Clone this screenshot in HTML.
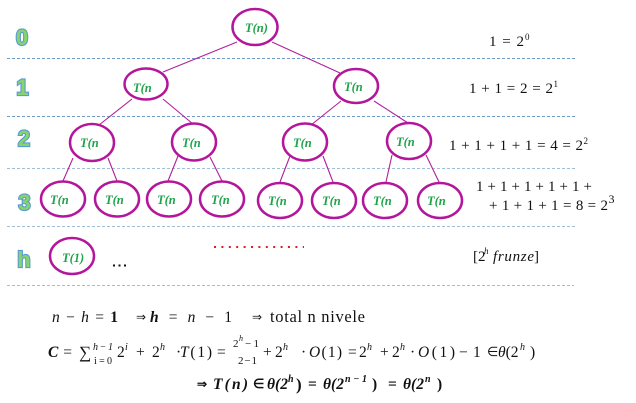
<!DOCTYPE html>
<html><head><meta charset="utf-8"><style>
html,body{margin:0;padding:0;background:#fff;}
svg{display:block;}
.m{font-family:"Liberation Serif",serif;fill:#111;}
.nt{font-family:"Liberation Serif",serif;font-weight:bold;font-style:italic;font-size:12.5px;fill:#1fa34a;}
.lv{font-family:"Liberation Sans",sans-serif;font-weight:bold;font-size:22px;fill:#86d46b;stroke:#5a9bd5;stroke-width:2.2px;paint-order:stroke;text-anchor:middle;}
.i{font-style:italic;}
.b{font-weight:bold;}
</style></head><body>
<svg width="636" height="403" viewBox="0 0 636 403" xmlns="http://www.w3.org/2000/svg">
<rect width="636" height="403" fill="#fff"/>
<!-- dashed separators -->
<g stroke-dasharray="3 2" stroke-width="1">
<line x1="7" y1="58.5" x2="576" y2="58.5" stroke="#6f9bc8"/>
<line x1="7" y1="116.5" x2="576" y2="116.5" stroke="#6f9bc8"/>
<line x1="7" y1="168.5" x2="576" y2="168.5" stroke="#9fbfd9"/>
<line x1="7" y1="226.5" x2="576" y2="226.5" stroke="#9fbfd9"/>
<line x1="7" y1="285.5" x2="574" y2="285.5" stroke="#9fbfd9"/>
</g>
<!-- edges -->
<g stroke="#b0209a" stroke-width="1.1" fill="none">
<line x1="237" y1="42" x2="163" y2="72"/>
<line x1="272" y1="42" x2="340" y2="73"/>
<line x1="132" y1="99" x2="99" y2="125"/>
<line x1="163" y1="99" x2="193" y2="124"/>
<line x1="341" y1="101" x2="311" y2="125"/>
<line x1="374" y1="101" x2="408" y2="123"/>
<line x1="73" y1="158" x2="63" y2="181"/>
<line x1="108" y1="158" x2="117" y2="181"/>
<line x1="178" y1="156" x2="168" y2="181"/>
<line x1="210" y1="157" x2="222" y2="181"/>
<line x1="290" y1="156" x2="280" y2="182"/>
<line x1="323" y1="156" x2="333" y2="182"/>
<line x1="392" y1="155" x2="386" y2="182"/>
<line x1="426" y1="155" x2="439" y2="182"/>
</g>
<!-- nodes -->
<g fill="#fff" stroke="#b4169b" stroke-width="2.5">
<ellipse cx="255" cy="27" rx="22.5" ry="18"/>
<ellipse cx="146" cy="84" rx="21.5" ry="15.5"/>
<ellipse cx="356" cy="86" rx="22" ry="17"/>
<ellipse cx="92" cy="142.5" rx="22" ry="18.5"/>
<ellipse cx="194" cy="142" rx="22" ry="18.5"/>
<ellipse cx="305" cy="142" rx="22" ry="18.5"/>
<ellipse cx="409" cy="141" rx="22" ry="18"/>
<ellipse cx="63" cy="199" rx="22" ry="17.5"/>
<ellipse cx="117" cy="199" rx="22" ry="17.5"/>
<ellipse cx="169" cy="199" rx="22" ry="17.5"/>
<ellipse cx="222" cy="199" rx="22" ry="17.5"/>
<ellipse cx="280" cy="200.5" rx="22" ry="17.5"/>
<ellipse cx="334" cy="200.5" rx="22" ry="17.5"/>
<ellipse cx="385" cy="200.5" rx="22" ry="17.5"/>
<ellipse cx="440" cy="200.5" rx="22" ry="17.5"/>
<ellipse cx="72" cy="256" rx="22" ry="18"/>
</g>
<!-- node labels -->
<text class="nt" x="245" y="32">T(n)</text>
<text class="nt" x="133" y="92">T(n</text>
<text class="nt" x="344" y="91">T(n</text>
<text class="nt" x="80" y="147">T(n</text>
<text class="nt" x="182" y="147">T(n</text>
<text class="nt" x="293" y="147">T(n</text>
<text class="nt" x="396" y="146">T(n</text>
<text class="nt" x="50" y="204">T(n</text>
<text class="nt" x="105" y="204">T(n</text>
<text class="nt" x="157" y="204">T(n</text>
<text class="nt" x="211" y="204">T(n</text>
<text class="nt" x="268" y="205">T(n</text>
<text class="nt" x="322" y="205">T(n</text>
<text class="nt" x="373" y="205">T(n</text>
<text class="nt" x="427" y="205">T(n</text>
<text class="nt" x="62" y="262">T(1)</text>
<!-- level labels -->
<text class="lv" x="22" y="45">0</text>
<text class="lv" x="22.5" y="95">1</text>
<text class="lv" x="24" y="146">2</text>
<text class="lv" x="24.5" y="210">3</text>
<text class="lv" x="24" y="267">h</text>
<!-- dots -->
<line x1="214" y1="247" x2="304" y2="247" stroke="#e02020" stroke-width="2" stroke-dasharray="2 5.4"/>
<g fill="#111">
<rect x="113" y="264.5" width="2" height="2"/>
<rect x="118.5" y="264.5" width="2" height="2"/>
<rect x="124" y="264.5" width="2" height="2"/>
</g>
<!-- right labels -->
<g class="m" font-size="15">
<text x="489" y="46" textLength="35" lengthAdjust="spacing">1 = 2</text>
<text x="525" y="40" font-size="9">0</text>
<text x="469" y="93" textLength="84" lengthAdjust="spacing">1 + 1 = 2 = 2</text>
<text x="553.5" y="87" font-size="9">1</text>
<text x="449" y="150" textLength="134" lengthAdjust="spacing">1 + 1 + 1 + 1 = 4 = 2</text>
<text x="583.5" y="144" font-size="9">2</text>
<text x="476" y="191" textLength="116" lengthAdjust="spacing">1 + 1 + 1 + 1 + 1 +</text>
<text x="489" y="210" textLength="119" lengthAdjust="spacing">+ 1 + 1 + 1 = 8 = 2</text>
<text x="608.5" y="203" font-size="12">3</text>
<text x="473" y="261">[2</text>
<text x="484" y="254" font-size="9" class="i">h</text>
<text x="493" y="261" class="i" textLength="41" lengthAdjust="spacing">frunze</text>
<text x="534" y="261">]</text>
</g>
<!-- bottom formulas -->
<g class="m" font-size="15.5">
<text x="52" y="322" textLength="66" lengthAdjust="spacing"><tspan class="i">n</tspan> − <tspan class="i">h</tspan> = <tspan class="b">1</tspan></text>
<text x="136" y="321" font-size="12">⇒</text>
<text x="150" y="322" textLength="82" lengthAdjust="spacing"><tspan class="b i">h</tspan> = <tspan class="i">n</tspan> − 1</text>
<text x="252" y="321" font-size="12">⇒</text>
<text x="270" y="322" font-size="16.5" textLength="95" lengthAdjust="spacing">total n nivele</text>

<text x="48" y="357" textLength="24" lengthAdjust="spacing"><tspan class="b i">C</tspan> =</text>
<text x="79" y="358" font-size="17">∑</text>
<text x="93" y="350" font-size="10" class="i" textLength="20" lengthAdjust="spacing">h−1</text>
<text x="94" y="364" font-size="10" textLength="18" lengthAdjust="spacing">i=0</text>
<text x="117" y="357">2</text>
<text x="125" y="350" font-size="10" class="i">i</text>
<text x="136" y="357">+</text>
<text x="152" y="357">2</text>
<text x="160" y="350" font-size="10" class="i">h</text>
<text x="176" y="357">·</text>
<text x="180" y="357" textLength="32" lengthAdjust="spacing"><tspan class="i">T</tspan>(1)</text>
<text x="217" y="357">=</text>
<text x="233" y="347" font-size="11">2</text>
<text x="239" y="341" font-size="8" class="i">h</text>
<text x="245" y="347" font-size="11" textLength="14" lengthAdjust="spacing">−1</text>
<text x="238" y="364" font-size="11" textLength="19" lengthAdjust="spacing">2−1</text>
<text x="263" y="357">+</text>
<text x="275" y="357">2</text>
<text x="283" y="350" font-size="10" class="i">h</text>
<text x="301" y="357">·</text>
<text x="309" y="357" textLength="33" lengthAdjust="spacing"><tspan class="i">O</tspan>(1)</text>
<text x="348" y="357">=</text>
<text x="359" y="357">2</text>
<text x="367" y="350" font-size="10" class="i">h</text>
<text x="380" y="357">+</text>
<text x="392" y="357">2</text>
<text x="400" y="350" font-size="10" class="i">h</text>
<text x="410" y="357">·</text>
<text x="418" y="357" textLength="37" lengthAdjust="spacing"><tspan class="i">O</tspan>(1)</text>
<text x="459" y="357">−</text>
<text x="473" y="357">1</text>
<text x="487" y="356" font-size="13">∈</text>
<text x="498" y="357"><tspan class="i">θ</tspan>(2</text>
<text x="520" y="350" font-size="10" class="i">h</text>
<text x="530" y="357">)</text>

<g class="b">
<text x="197" y="388" font-size="12">⇒</text>
<text x="213" y="389" class="i" textLength="35" lengthAdjust="spacing">T(n)</text>
<text x="253" y="388" font-size="13">∈</text>
<text x="267" y="389" class="i">θ(2</text>
<text x="288" y="382" font-size="10" class="i">h</text>
<text x="296" y="390" font-size="17">)</text>
<text x="308" y="389">=</text>
<text x="323" y="389" class="i">θ(2</text>
<text x="345" y="382" font-size="10" class="i" textLength="22" lengthAdjust="spacing">n−1</text>
<text x="372" y="389">)</text>
<text x="388" y="389">=</text>
<text x="403" y="389" class="i">θ(2</text>
<text x="425" y="382" font-size="10" class="i">n</text>
<text x="437" y="389">)</text>
</g>
</g>
</svg>
</body></html>
